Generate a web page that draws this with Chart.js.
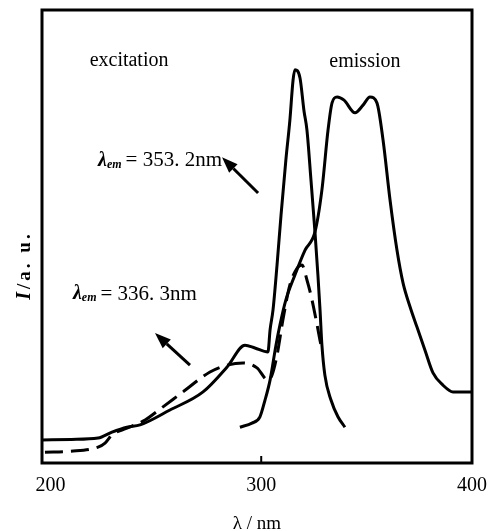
<!DOCTYPE html>
<html><head><meta charset="utf-8">
<script src="https://cdn.jsdelivr.net/npm/chart.js@4"></script>
<style>html,body{margin:0;padding:0;background:#fff}#wrap{width:494px;height:531px}</style>
</head><body><div id="wrap"><canvas id="c" width="494" height="531"></canvas></div>
<script>
// ---- data ----
const xTicks = [200, 300, 400];

const exc353X = [196, 210, 222.6, 229.2, 236.3, 242.5, 256.7, 272.4, 283.8, 292.3, 297, 303.2, 304.2, 305.6, 307.5, 309.4, 311.7, 313.6, 315.1, 316, 318.4, 320.3, 321.7, 323.6, 325.5, 326.9, 327.9, 328.8, 330.2, 333.1, 336.4, 339.7];
const exc353Y = [5.1, 5.2, 5.5, 6.8, 7.9, 8.4, 11.7, 15.7, 21.2, 26.0, 25.4, 24.5, 29.4, 33.8, 43.7, 54.7, 66.9, 75.7, 84.5, 86.8, 85, 77.7, 73.5, 62.5, 51, 41.5, 33.8, 26, 19.4, 13.9, 10.2, 7.9];

const exc336X = [197.4, 209.3, 222.6, 225.9, 229.2, 236.3, 244.9, 253.4, 262.9, 275.7, 283.8, 291.4, 298, 303.2, 305.1, 307.5, 310.3, 313.6, 317, 319.3, 321.7, 324.1, 326.5, 328.4, 329.2];
const exc336Y = [2.4, 2.6, 3.5, 4.4, 6.2, 7.7, 9.5, 12.4, 15.7, 20.1, 21.6, 22.1, 21, 18.3, 19.4, 23.8, 31.6, 39.3, 43, 43.7, 40.4, 36, 30.5, 26, 24.9];

const emisX = [289.9, 295.6, 299.4, 301.8, 304.2, 307, 308.9, 311.7, 316, 320.8, 325.5, 328.8, 331.7, 333.6, 336, 339.3, 344.5, 348.3, 351.6, 354.9, 357.8, 361.1, 364.4, 367.3, 370.6, 373.9, 377.7, 381.5, 386.2, 391, 400];
const emisY = [7.9, 8.8, 10.2, 13.9, 18.3, 26, 30.5, 36, 41.5, 47, 51, 60.3, 73.5, 79.5, 80.8, 80.1, 77.3, 79, 80.8, 79.5, 71.3, 58.1, 47, 39.7, 34.5, 30, 24.9, 19.9, 17.2, 15.7, 15.7];

// ---- annotations (data coordinates) ----
const labels = [
  {text: 'excitation', x: 237.3, y: 88.7},
  {text: 'emission', x: 349.2, y: 88.5}
];
const lambdaLabels = [
  {value: '353. 2nm', x: 222.6, y: 66.7},
  {value: '336. 3nm', x: 210.7, y: 37.3}
];
const arrows = [
  {x1: 298.5, y1: 59.6, x2: 281.4, y2: 67.5},
  {x1: 266.2, y1: 21.6, x2: 249.6, y2: 28.7}
];

const zip = (xs, ys) => xs.map((x, i) => ({x, y: ys[i]}));
const SERIF = '"Liberation Serif", "DejaVu Serif", serif';

const deco = {
  id: 'deco',
  afterDraw(chart) {
    const {ctx, chartArea: a, scales: {x, y}} = chart;
    ctx.save();
    ctx.fillStyle = '#000';
    ctx.strokeStyle = '#000';
    // frame
    ctx.lineWidth = 3;
    ctx.strokeRect(a.left, a.top, a.right - a.left, a.bottom - a.top);
    // inner tick at 300
    const tx = x.getPixelForValue(300);
    ctx.lineWidth = 2;
    ctx.beginPath(); ctx.moveTo(tx, a.bottom); ctx.lineTo(tx, a.bottom - 7); ctx.stroke();
    // plain labels
    ctx.font = '20px ' + SERIF;
    ctx.textAlign = 'center'; ctx.textBaseline = 'middle';
    labels.forEach(l => ctx.fillText(l.text, x.getPixelForValue(l.x), y.getPixelForValue(l.y)));
    // lambda_em labels
    ctx.textAlign = 'left';
    lambdaLabels.forEach(l => {
      let px = x.getPixelForValue(l.x), py = y.getPixelForValue(l.y);
      ctx.font = 'italic bold 20px ' + SERIF;
      ctx.fillText('λ', px, py); px += ctx.measureText('λ').width;
      ctx.font = 'italic bold 12px ' + SERIF;
      ctx.fillText('em', px, py + 4); px += ctx.measureText('em').width + 4;
      ctx.font = '21px ' + SERIF;
      ctx.fillText('= ' + l.value, px, py);
    });
    // arrows
    arrows.forEach(ar => {
      const x1 = x.getPixelForValue(ar.x1), y1 = y.getPixelForValue(ar.y1);
      const x2 = x.getPixelForValue(ar.x2), y2 = y.getPixelForValue(ar.y2);
      const ang = Math.atan2(y2 - y1, x2 - x1);
      const hl = 16, hw = 6;
      const bx = x2 - hl * Math.cos(ang), by = y2 - hl * Math.sin(ang);
      ctx.lineWidth = 3;
      ctx.beginPath(); ctx.moveTo(x1, y1); ctx.lineTo(bx, by); ctx.stroke();
      ctx.beginPath();
      ctx.moveTo(x2, y2);
      ctx.lineTo(bx + hw * Math.sin(ang), by - hw * Math.cos(ang));
      ctx.lineTo(bx - hw * Math.sin(ang), by + hw * Math.cos(ang));
      ctx.closePath(); ctx.fill();
    });
    // y title (spaced characters, rotated)
    ctx.translate(25, (a.top + a.bottom) / 2 + 29);
    ctx.rotate(-Math.PI / 2);
    ctx.textAlign = 'left';
    const parts = [['I', 'italic bold 20px '], ['/', 'bold 19px '], ['a', 'bold 19px '], ['.', 'bold 19px '], [' ', 'bold 19px '], ['u', 'bold 19px '], ['.', 'bold 19px ']];
    const gap = 3;
    let total = 0;
    parts.forEach(p => { ctx.font = p[1] + SERIF; total += ctx.measureText(p[0]).width + gap; });
    let sx = -total / 2;
    parts.forEach(p => { ctx.font = p[1] + SERIF; ctx.fillText(p[0], sx, 0); sx += ctx.measureText(p[0]).width + gap; });
    ctx.restore();
  }
};

const lineStyle = {borderColor: '#000', borderWidth: 3, pointRadius: 0, fill: false, cubicInterpolationMode: 'monotone'};

new Chart(document.getElementById('c'), {
  type: 'line',
  data: {
    datasets: [
      Object.assign({label: 'excitation λem=353.2nm', data: zip(exc353X, exc353Y)}, lineStyle),
      Object.assign({label: 'excitation λem=336.3nm', data: zip(exc336X, exc336Y), borderDash: [18, 8]}, lineStyle),
      Object.assign({label: 'emission', data: zip(emisX, emisY)}, lineStyle)
    ]
  },
  options: {
    responsive: false, animation: false, devicePixelRatio: 1,
    layout: {padding: {left: 42, right: 22, top: 10, bottom: 0}},
    plugins: {legend: {display: false}, tooltip: {enabled: false}},
    scales: {
      x: {
        type: 'linear', min: 196, max: 400,
        afterBuildTicks: s => { s.ticks = xTicks.map(v => ({value: v})); },
        afterFit: s => { s.height = 68; s.paddingLeft = 0; s.paddingRight = 0; },
        grid: {display: false, drawTicks: false},
        border: {display: false},
        ticks: {color: '#000', padding: 11, font: {family: SERIF, size: 20}},
        title: {display: true, text: 'λ / nm', color: '#000', font: {family: SERIF, size: 19}, padding: {top: 0, bottom: -4}}
      },
      y: {display: false, min: 0, max: 100}
    }
  },
  plugins: [deco]
});
</script></body></html>
